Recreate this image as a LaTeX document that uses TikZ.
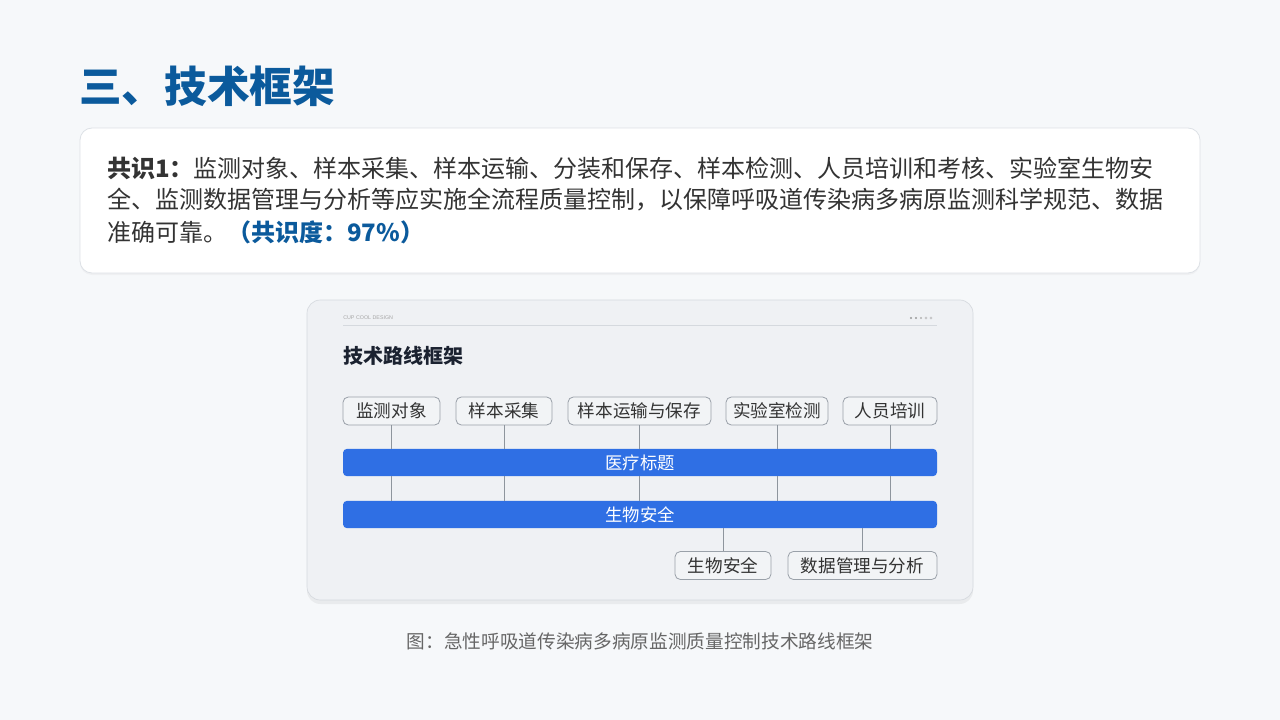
\documentclass[tikz,border=0pt]{standalone}
\usepackage{fontspec}
\setmainfont{Noto Sans CJK SC}
\newfontfamily\latinsans{Liberation Sans}
\usetikzlibrary{shadows}
\definecolor{bgc}{HTML}{F6F8FA}
\definecolor{titleblue}{HTML}{0B5A9C}
\definecolor{txt}{HTML}{333333}
\definecolor{cardborder}{HTML}{DDE1E6}
\definecolor{panelfill}{HTML}{EFF1F4}
\definecolor{panelborder}{HTML}{D5D9DE}
\definecolor{boxfill}{HTML}{F2F4F6}
\definecolor{boxborder}{HTML}{9AA1A9}
\definecolor{barblue}{HTML}{2F6FE4}
\definecolor{linegray}{HTML}{8E959D}
\definecolor{navy}{HTML}{1B2230}
\definecolor{capgray}{HTML}{666666}
\tikzset{
  topbox/.style={draw=boxborder, line width=0.6pt, fill=boxfill, rounded corners=4pt,
     minimum height=21pt, inner sep=0pt, font=\fontsize{13.2}{15}\selectfont, text=txt},
  bar/.style={fill=barblue, rounded corners=3pt, minimum height=20.5pt, minimum width=445.5pt,
     inner sep=0pt, font=\fontsize{13}{15}\selectfont, text=white},
  conn/.style={draw=linegray, line width=0.7pt},
}
\begin{document}
\begin{tikzpicture}[x=0.75pt,y=-0.75pt]
\useasboundingbox (0,0) rectangle (1280,720);
\fill[bgc] (0,0) rectangle (1280,720);
% title
\node[anchor=west, inner sep=0pt, text=titleblue, font=\fontsize{32}{36}\selectfont\bfseries] (title) at (79,86) {三、技术框架};
% card
\node[draw=cardborder, line width=0.6pt, fill=white, rounded corners=9pt, minimum width=840pt, minimum height=108.75pt, inner sep=0pt,
  drop shadow={opacity=0.06, shadow xshift=0pt, shadow yshift=-1.5pt}] (card) at (640,200.5) {};
\node[anchor=west, inner sep=0pt, text=txt, font=\fontsize{18}{24}\selectfont] (l1) at (107,168) {\textbf{共识1：}监测对象、样本采集、样本运输、分装和保存、样本检测、人员培训和考核、实验室生物安};
\node[anchor=west, inner sep=0pt, text=txt, font=\fontsize{18}{24}\selectfont] (l2) at (107,200) {全、监测数据管理与分析等应实施全流程质量控制，以保障呼吸道传染病多病原监测科学规范、数据};
\node[anchor=west, inner sep=0pt, text=txt, font=\fontsize{18}{24}\selectfont] (l3) at (107,232) {准确可靠。\textcolor{titleblue}{\textbf{（共识度：97\%）}}};
% panel
\node[draw=panelborder, line width=0.5pt, fill=panelfill, rounded corners=10pt, minimum width=499.5pt, minimum height=225pt, inner sep=0pt,
  drop shadow={opacity=0.10, shadow xshift=0pt, shadow yshift=-3pt}] (panel) at (640,450) {};
\node[anchor=west, inner sep=0pt, text=gray!70, font=\latinsans\fontsize{4}{5}\selectfont] (brand) at (343,318) {CUP COOL DESIGN};
\coordinate (hl1) at (343,325);
\coordinate (hl2) at (937,325);
\draw[draw=panelborder, line width=0.6pt] (hl1) -- (hl2);
\foreach \i/\xx in {1/911,2/916,3/921,4/926,5/931}{
  \coordinate (dot\i) at (\xx,318);
}
\fill[gray!80] (dot1) circle (1.1);
\fill[gray!80] (dot2) circle (1.1);
\fill[gray!60] (dot3) circle (1.1);
\draw[gray!60, line width=0.3pt] (dot4) circle (1.1);
\draw[gray!60, line width=0.3pt] (dot5) circle (1.1);
\node[anchor=west, inner sep=0pt, text=navy, font=\fontsize{15}{18}\selectfont\bfseries] (ptitle) at (343,356) {技术路线框架};
% top boxes
\node[topbox, minimum width=72.75pt] (b1) at (391.5,411) {监测对象};
\node[topbox, minimum width=72pt] (b2) at (504,411) {样本采集};
\node[topbox, minimum width=107.25pt] (b3) at (639.5,411) {样本运输与保存};
\node[topbox, minimum width=76.5pt] (b4) at (777,411) {实验室检测};
\node[topbox, minimum width=70.5pt] (b5) at (890,411) {人员培训};
% bars
\node[bar] (bar1) at (640,462.5) {医疗标题};
\node[bar] (bar2) at (640,514.5) {生物安全};
% bottom boxes
\node[topbox, minimum width=72pt] (c1) at (723,565.5) {生物安全};
\node[topbox, minimum width=111.75pt] (c2) at (862.5,565.5) {数据管理与分析};
% connectors
\foreach \b in {b1,b2,b3,b4,b5}{
  \draw[conn] (\b.south) -- (\b.south |- bar1.north);
  \draw[conn] (\b.south |- bar1.south) -- (\b.south |- bar2.north);
}
\draw[conn] (c1.north |- bar2.south) -- (c1.north);
\draw[conn] (c2.north |- bar2.south) -- (c2.north);
% caption
\node[inner sep=0pt, text=capgray, font=\fontsize{14}{16}\selectfont] (cap) at (640,641) {图：急性呼吸道传染病多病原监测质量控制技术路线框架};
\end{tikzpicture}
\end{document}
